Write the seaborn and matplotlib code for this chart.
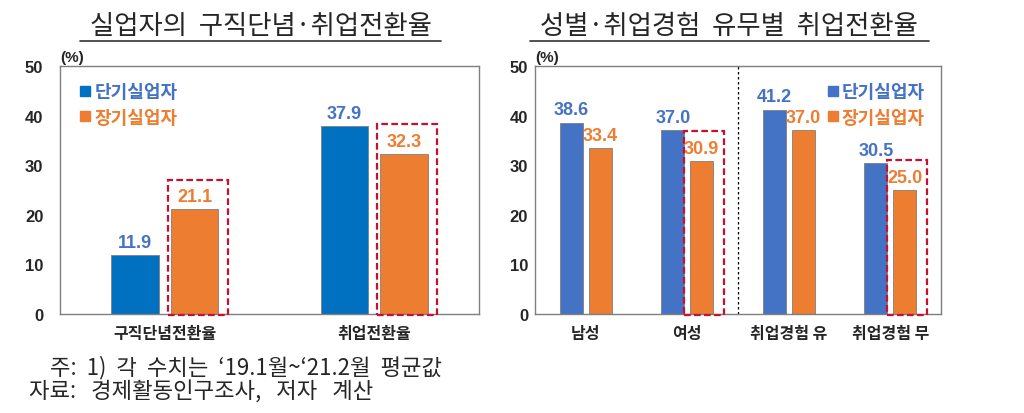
import matplotlib
matplotlib.use("Agg")
import matplotlib.pyplot as plt
from matplotlib.patches import Rectangle
from matplotlib.lines import Line2D
import seaborn as sns
import pandas as pd

# ---- data ----
series_names = ["단기실업자", "장기실업자"]
left_categories = ["구직단념전환율", "취업전환율"]
left_short = [11.9, 37.9]
left_long = [21.1, 32.3]
left_highlight = [0, 1]

right_categories = ["남성", "여성", "취업경험 유", "취업경험 무"]
right_short = [38.6, 37.0, 41.2, 30.5]
right_long = [33.4, 30.9, 37.0, 25.0]
right_highlight = [1, 3]

left_title = "실업자의  구직단념·취업전환율"
right_title = "성별·취업경험  유무별  취업전환율"
note_line1 = "  ".join(["주:", "1)", "각", "수치는", "‘19.1월~‘21.2월", "평균값"])
note_line2 = "   ".join(["자료:", "경제활동인구조사,", "저자", "계산"])
y_ticks = [0, 10, 20, 30, 40, 50]

# ---- style ----
sns.set_theme(style="white")
plt.rcParams["font.family"] = ["Liberation Sans", "Noto Sans CJK KR", "DejaVu Sans"]
KR = ["Noto Sans CJK KR", "DejaVu Sans"]

BLUE_L = "#0070C0"
BLUE_R = "#4472C4"
LBL_BLUE = "#4472C4"
ORANGE = "#ED7D31"
RED = "#C8102E"

fig = plt.figure(figsize=(10.24, 4.14), dpi=100)
axL = fig.add_axes([60 / 1024, 1 - 315 / 414, 419 / 1024, 248 / 414])
axR = fig.add_axes([535 / 1024, 1 - 315 / 414, 406 / 1024, 248 / 414])


def make_df(cats, s, l):
    return pd.DataFrame({
        "cat": cats * 2,
        "val": s + l,
        "series": [series_names[0]] * len(cats) + [series_names[1]] * len(cats),
    })


def draw(ax, cats, s, l, blue, highlight, box_pad, tick_pad):
    df = make_df(cats, s, l)
    sns.barplot(data=df, x="cat", y="val", hue="series", hue_order=series_names,
                palette=[blue, ORANGE], width=0.57, gap=0.2, errorbar=None,
                ax=ax, legend=False, edgecolor="#7f7f7f", linewidth=0.6,
                saturation=1)
    ax.set_xlim(-0.5, len(cats) - 0.5)
    ax.set_ylim(0, 50)
    ax.set_yticks(y_ticks)
    ax.set_xlabel("")
    ax.set_ylabel("")
    for sp in ax.spines.values():
        sp.set_color("#7f7f7f")
        sp.set_linewidth(1.0)
    ax.tick_params(axis="y", length=0, pad=tick_pad, labelsize=12)
    ax.tick_params(axis="x", length=0, pad=8, labelsize=11.5)
    for t in ax.get_yticklabels():
        t.set_fontweight("bold")
    for t in ax.get_xticklabels():
        t.set_fontweight("bold")
        t.set_family(KR)
    cont_s, cont_l = ax.containers[0], ax.containers[1]
    ax.bar_label(cont_s, fmt="%.1f", padding=3, color=LBL_BLUE,
                 fontsize=13, fontweight="bold")
    ax.bar_label(cont_l, fmt="%.1f", padding=3, color=ORANGE,
                 fontsize=13, fontweight="bold")
    for i in highlight:
        p = cont_l.patches[i]
        x0 = p.get_x() - box_pad[0]
        x1 = p.get_x() + p.get_width() + box_pad[1]
        top = l[i] + 6.0
        ax.add_patch(Rectangle((x0, -0.3), x1 - x0, top + 0.3, fill=False,
                               edgecolor=RED, linestyle=(0, (3, 1.5)),
                               linewidth=1.6, zorder=5, clip_on=False))
    ax.text(0.0, 1.01, "(%)", transform=ax.transAxes, fontsize=11,
            fontweight="bold", ha="left", va="bottom")


draw(axL, left_categories, left_short, left_long, BLUE_L, left_highlight,
     (0.015, 0.045), 12)
draw(axR, right_categories, right_short, right_long, BLUE_R, right_highlight,
     (0.06, 0.11), 5)

axR.axvline(1.5, color="black", linestyle=(0, (2, 2)), linewidth=0.9)


def legend(ax, blue, loc, anchor):
    handles = [Line2D([0], [0], marker="s", linestyle="", color=blue, markersize=7),
               Line2D([0], [0], marker="s", linestyle="", color=ORANGE, markersize=7)]
    leg = ax.legend(handles, series_names, loc=loc, bbox_to_anchor=anchor,
                    frameon=False, handletextpad=0.0, handlelength=1.0,
                    labelspacing=0.35, prop={"family": KR, "weight": "bold", "size": 13})
    for t, c in zip(leg.get_texts(), [LBL_BLUE, ORANGE]):
        t.set_color(c)


legend(axL, BLUE_L, "upper left", (0.0, 1.0))
legend(axR, BLUE_R, "upper right", (1.0, 1.0))

# titles with underline
fig.text(261 / 1024, 1 - 27 / 414, left_title, ha="center", va="center",
         fontsize=19, family=KR)
fig.text(729 / 1024, 1 - 27 / 414, right_title, ha="center", va="center",
         fontsize=19, family=KR)
fig.add_artist(Line2D([80 / 1024, 441 / 1024], [1 - 42 / 414] * 2, color="#333333",
                      linewidth=1.2, transform=fig.transFigure))
fig.add_artist(Line2D([530 / 1024, 929 / 1024], [1 - 42 / 414] * 2, color="#333333",
                      linewidth=1.2, transform=fig.transFigure))

fig.text(50 / 1024, 1 - 368 / 414, note_line1, ha="left", va="center",
         fontsize=16, family=KR)
fig.text(29 / 1024, 1 - 392 / 414, note_line2, ha="left", va="center",
         fontsize=16, family=KR)

fig.savefig("out.png", dpi=100)
